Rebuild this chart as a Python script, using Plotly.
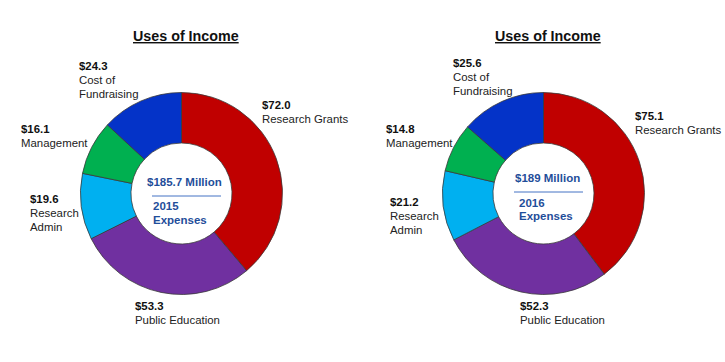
import plotly.graph_objects as go

categories = ["Research Grants", "Public Education", "Research Admin", "Management", "Cost of Fundraising"]
values_2015 = [72.0, 53.3, 19.6, 16.1, 24.3]
values_2016 = [75.1, 52.3, 21.2, 14.8, 25.6]
colors = ["#C00000", "#7030A0", "#00B0F0", "#00B050", "#0433C8"]
years = ["2015", "2016"]
totals = ["$185.7 Million", "$189 Million"]
title_text = "Uses of Income"

W, H = 725, 362

def px(x):
    return x / W

def py(y):
    return 1 - y / H

fig = go.Figure()

centers = [(181.5, 193.5), (543.5, 193.5)]
R = 101
for (cx, cy), vals in zip(centers, [values_2015, values_2016]):
    fig.add_trace(go.Pie(
        labels=categories, values=vals, hole=0.5, sort=False,
        direction="clockwise", rotation=0,
        marker=dict(colors=colors, line=dict(color="#3a3a3a", width=0.8)),
        textinfo="none", hoverinfo="label+value", showlegend=False,
        domain=dict(x=[px(cx - R), px(cx + R)], y=[py(cy + R), py(cy - R)]),
    ))

annotations = []
FONT = "Liberation Sans, Arial"
def add_text(x, y, text, bold=False, size=11.4, color="#111111", xanchor="left", underline=False):
    t = text
    if bold:
        t = "<b>" + t + "</b>"
    if underline:
        t = "<u>" + t + "</u>"
    annotations.append(dict(x=px(x), y=py(y), xref="paper", yref="paper", text=t,
                            showarrow=False, xanchor=xanchor, yanchor="middle",
                            font=dict(family=FONT, size=size, color=color)))

# label layouts: (x, y of value line, lines of name)
label_pos = [
    {"Research Grants": (262, 105, ["Research Grants"]),
     "Public Education": (135, 306, ["Public Education"]),
     "Research Admin": (30, 199, ["Research", "Admin"]),
     "Management": (21, 129, ["Management"]),
     "Cost of Fundraising": (79, 66, ["Cost of", "Fundraising"])},
    {"Research Grants": (635, 116, ["Research Grants"]),
     "Public Education": (520, 306, ["Public Education"]),
     "Research Admin": (390, 202, ["Research", "Admin"]),
     "Management": (386, 129, ["Management"]),
     "Cost of Fundraising": (453, 63, ["Cost of", "Fundraising"])},
]

for i, vals in enumerate([values_2015, values_2016]):
    for cat, v in zip(categories, vals):
        x, y, lines = label_pos[i][cat]
        add_text(x - 2, y, f"${v:.1f}", bold=True)
        for k, ln in enumerate(lines):
            add_text(x - 2, y + 14 * (k + 1), ln, color="#222222")

# titles
add_text(186, 36, title_text, bold=True, size=14.3, xanchor="center", underline=True)
add_text(548, 36, title_text, bold=True, size=14.3, xanchor="center", underline=True)

# center texts
blue = "#1F4E9A"
add_text(184.5, 182, totals[0], bold=True, size=11.5, color=blue, xanchor="center")
add_text(151, 206, years[0], bold=True, size=11.5, color=blue)
add_text(151, 220, "Expenses", bold=True, size=11.5, color=blue)
add_text(547, 178, totals[1], bold=True, size=11.5, color=blue, xanchor="center")
add_text(517, 203, years[1], bold=True, size=11.5, color=blue)
add_text(517, 216, "Expenses", bold=True, size=11.5, color=blue)

shapes = [
    dict(type="line", xref="paper", yref="paper", x0=px(152), x1=px(221), y0=py(196), y1=py(196),
         line=dict(color="#4472C4", width=1)),
    dict(type="line", xref="paper", yref="paper", x0=px(514), x1=px(583), y0=py(192), y1=py(192),
         line=dict(color="#4472C4", width=1)),
]

fig.update_layout(width=W, height=H, margin=dict(l=0, r=0, t=0, b=0),
                  paper_bgcolor="white", plot_bgcolor="white",
                  annotations=annotations, shapes=shapes)

fig.write_html("out.html", config={"displayModeBar": False},
               post_script="document.body.style.margin='0';document.body.style.overflow='hidden';")
